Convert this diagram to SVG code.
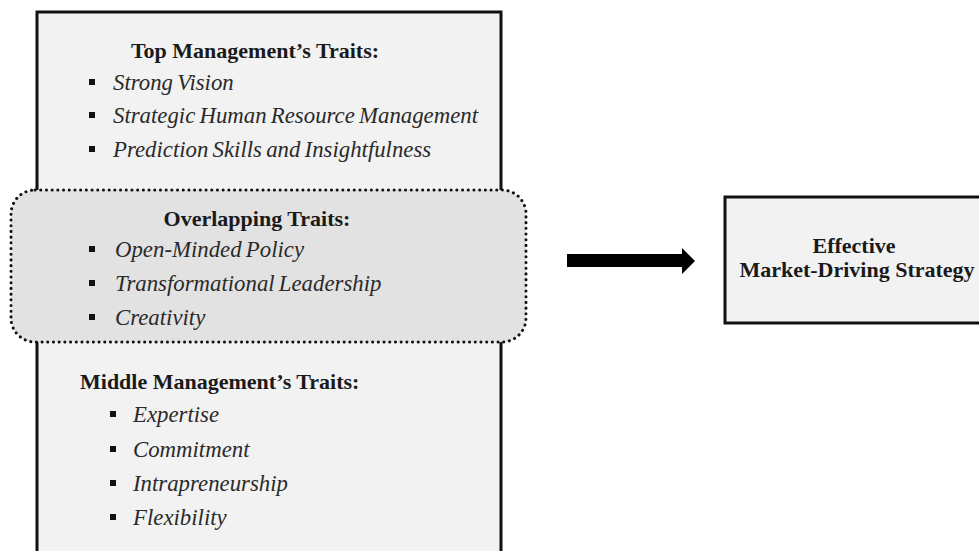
<svg xmlns="http://www.w3.org/2000/svg" width="979" height="551" viewBox="0 0 979 551">
  <style>
    .frame { fill: #f2f2f2; stroke: #111; stroke-width: 3; }
    .overlap { fill: #e2e2e2; stroke: #111; stroke-width: 3; stroke-dasharray: 0.1 5.6; stroke-linecap: round; }
    .head { font-family: "Liberation Serif", "Times New Roman", serif; font-weight: bold; font-size: 22px; fill: #1a1a1a; }
    .item { font-family: "Liberation Serif", "Times New Roman", serif; font-style: italic; font-size: 22.8px; fill: #2a2a2a; word-spacing: -1.5px; }
    .bullet { fill: #111; }
  </style>

  <!-- Traits column -->
  <g id="traits">
    <rect class="frame" x="37" y="12" width="464" height="560"/>
  </g>

  <g id="top-management">
    <text class="head" x="255" y="58" text-anchor="middle">Top Management’s Traits:</text>
    <rect class="bullet" x="89" y="79" width="6" height="6"/>
    <text class="item" x="113" y="90">Strong Vision</text>
    <rect class="bullet" x="89" y="112" width="6" height="6"/>
    <text class="item" x="113" y="123">Strategic Human Resource Management</text>
    <rect class="bullet" x="89" y="146" width="6" height="6"/>
    <text class="item" x="113" y="157">Prediction Skills and Insightfulness</text>
  </g>

  <g id="overlapping">
    <rect class="overlap" x="11" y="190" width="515" height="152" rx="24" ry="24"/>
    <text class="head" x="257" y="226" text-anchor="middle">Overlapping Traits:</text>
    <rect class="bullet" x="89" y="246" width="6" height="6"/>
    <text class="item" x="115" y="257">Open-Minded Policy</text>
    <rect class="bullet" x="89" y="280" width="6" height="6"/>
    <text class="item" x="115" y="291">Transformational Leadership</text>
    <rect class="bullet" x="89" y="314" width="6" height="6"/>
    <text class="item" x="115" y="325">Creativity</text>
  </g>

  <g id="middle-management">
    <text class="head" x="80" y="389">Middle Management’s Traits:</text>
    <rect class="bullet" x="110" y="411" width="6" height="6"/>
    <text class="item" x="133" y="422">Expertise</text>
    <rect class="bullet" x="110" y="446" width="6" height="6"/>
    <text class="item" x="133" y="457">Commitment</text>
    <rect class="bullet" x="110" y="480" width="6" height="6"/>
    <text class="item" x="133" y="491">Intrapreneurship</text>
    <rect class="bullet" x="110" y="514" width="6" height="6"/>
    <text class="item" x="133" y="525">Flexibility</text>
  </g>

  <!-- Outcome -->
  <g id="outcome">
    <rect class="frame" x="725" y="197" width="280" height="126"/>
    <text class="head" x="854" y="253" text-anchor="middle">Effective</text>
    <text class="head" x="857" y="277" text-anchor="middle">Market-Driving Strategy</text>
  </g>

  <!-- Connectors -->
  <g id="connectors">
    <polygon points="567,254 682,254 682,248 695,261 682,274 682,267 567,267" fill="#000"/>
  </g>
</svg>
